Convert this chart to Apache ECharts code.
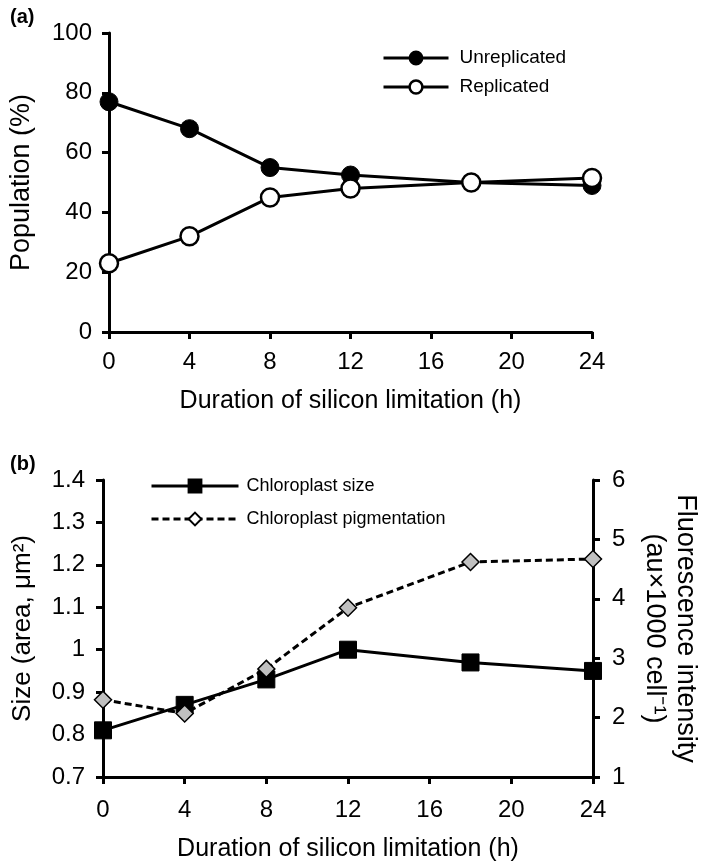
<!DOCTYPE html>
<html>
<head>
<meta charset="utf-8">
<script src="https://cdn.jsdelivr.net/npm/echarts@6/dist/echarts.min.js"></script>
<style>
html,body{margin:0;padding:0;background:#fff;}
#chart{width:709px;height:866px;}
</style>
</head>
<body>
<div id="chart"></div>
<script>
// ---- data ----
var hours = [0, 4, 8, 12, 18, 24];
var unreplicated = [77, 68, 55, 52.5, 50, 49];
var replicated = [23, 32, 45, 48, 50, 51.5];
var chloroplastSize = [0.81, 0.87, 0.93, 1.0, 0.97, 0.95];
var chloroplastPigmentation = [2.3, 2.07, 2.82, 3.85, 4.62, 4.67];
var xTitle = 'Duration of silicon limitation (h)';

function pairs(xs, ys) { return xs.map(function (x, i) { return [x, ys[i]]; }); }

var FONT = '"Liberation Sans", Arial, sans-serif';
var black = '#000';
var AW = 3;

function xAxisDef(gridIndex, labelMargin, nameGap) {
  return {
    type: 'value', gridIndex: gridIndex, min: 0, max: 24, interval: 4,
    axisLine: { show: true, onZero: false, lineStyle: { color: black, width: AW } },
    axisTick: { show: true, inside: false, length: 7, lineStyle: { color: black, width: AW } },
    axisLabel: { color: black, fontSize: 24, fontFamily: FONT, margin: labelMargin },
    splitLine: { show: false },
    name: xTitle, nameLocation: 'middle', nameGap: nameGap,
    nameTextStyle: { color: black, fontSize: 25, fontFamily: FONT }
  };
}

var chart = echarts.init(document.getElementById('chart'), null, { renderer: 'canvas' });
chart.setOption({
  backgroundColor: '#fff',
  animation: false,
  title: [
    { text: '(a)', left: 5, top: 2, textStyle: { fontSize: 20, fontWeight: 'bold', fontFamily: FONT, color: black } },
    { text: '(b)', left: 5, top: 449, textStyle: { fontSize: 20, fontWeight: 'bold', fontFamily: FONT, color: black } }
  ],
  grid: [
    { left: 109, right: 117, top: 33, height: 299 },
    { left: 103, right: 112, top: 480, height: 297 }
  ],
  xAxis: [ xAxisDef(0, 18, 57), xAxisDef(1, 21, 60) ],
  yAxis: [
    {
      type: 'value', gridIndex: 0, min: 0, max: 100, interval: 20,
      axisLine: { show: true, lineStyle: { color: black, width: AW } },
      axisTick: { show: true, length: 7, lineStyle: { color: black, width: AW } },
      axisLabel: { color: black, fontSize: 24, fontFamily: FONT, margin: 17 },
      splitLine: { show: false },
      name: 'Population (%)', nameLocation: 'middle', nameRotate: 90, nameGap: 74,
      nameTextStyle: { color: black, fontSize: 27, fontFamily: FONT }
    },
    {
      type: 'value', gridIndex: 1, min: 0.7, max: 1.4, interval: 0.1,
      axisLine: { show: true, lineStyle: { color: black, width: AW } },
      axisTick: { show: true, length: 7, lineStyle: { color: black, width: AW } },
      axisLabel: { color: black, fontSize: 24, fontFamily: FONT, margin: 18,
        formatter: function (v) { return String(Math.round(v * 10) / 10); } },
      splitLine: { show: false },
      name: 'Size (area, μm²)', nameLocation: 'middle', nameRotate: 90, nameGap: 67,
      nameTextStyle: { color: black, fontSize: 26, fontFamily: FONT }
    },
    {
      type: 'value', gridIndex: 1, position: 'right', min: 1, max: 6, interval: 1,
      axisLine: { show: true, lineStyle: { color: black, width: AW } },
      axisTick: { show: true, length: 7, lineStyle: { color: black, width: AW } },
      axisLabel: { color: black, fontSize: 24, fontFamily: FONT, margin: 19 },
      splitLine: { show: false },
      name: 'Fluorescence intensity\n(au×1000 cell⁻¹)', nameLocation: 'middle', nameRotate: -90, nameGap: 46,
      nameTextStyle: { color: black, fontSize: 27, fontFamily: FONT, lineHeight: 31 }
    }
  ],
  legend: [
    {
      orient: 'vertical', left: 382, top: 48, padding: 0, itemWidth: 65, itemHeight: 16, itemGap: 9,
      lineStyle: { width: 3 },
      textStyle: { fontSize: 19, fontFamily: FONT, color: black, lineHeight: 20, padding: [0, 0, 0, 6] },
      data: [
        { name: 'Unreplicated' },
        { name: 'Replicated', itemStyle: { borderWidth: 2.5 } }
      ]
    },
    {
      orient: 'vertical', left: 150, top: 476, padding: 0, itemWidth: 87, itemHeight: 16, itemGap: 13,
      lineStyle: { width: 3 },
      textStyle: { fontSize: 18, fontFamily: FONT, color: black, lineHeight: 20, padding: [0, 0, 0, 3] },
      data: [
        { name: 'Chloroplast size' },
        { name: 'Chloroplast pigmentation', itemStyle: { color: '#fff', borderWidth: 2 } }
      ]
    }
  ],
  series: [
    {
      name: 'Unreplicated', type: 'line', xAxisIndex: 0, yAxisIndex: 0,
      data: pairs(hours, unreplicated),
      symbol: 'circle', symbolSize: 18,
      lineStyle: { color: black, width: 3 },
      itemStyle: { color: black, borderColor: black, borderWidth: 1 },
      z: 2
    },
    {
      name: 'Replicated', type: 'line', xAxisIndex: 0, yAxisIndex: 0,
      data: pairs(hours, replicated),
      symbol: 'circle', symbolSize: 18,
      lineStyle: { color: black, width: 3 },
      itemStyle: { color: '#fff', borderColor: black, borderWidth: 2.5 },
      z: 3
    },
    {
      name: 'Chloroplast size', type: 'line', xAxisIndex: 1, yAxisIndex: 1,
      data: pairs(hours, chloroplastSize),
      symbol: 'rect', symbolSize: 17,
      lineStyle: { color: black, width: 3 },
      itemStyle: { color: black, borderColor: black, borderWidth: 1 },
      z: 2
    },
    {
      name: 'Chloroplast pigmentation', type: 'line', xAxisIndex: 1, yAxisIndex: 2,
      data: pairs(hours, chloroplastPigmentation),
      symbol: 'diamond', symbolSize: 17,
      lineStyle: { color: black, width: 3, type: [7, 4] },
      itemStyle: { color: '#c0c0c0', borderColor: black, borderWidth: 1.5 },
      z: 3
    }
  ]
});
</script>
</body>
</html>
